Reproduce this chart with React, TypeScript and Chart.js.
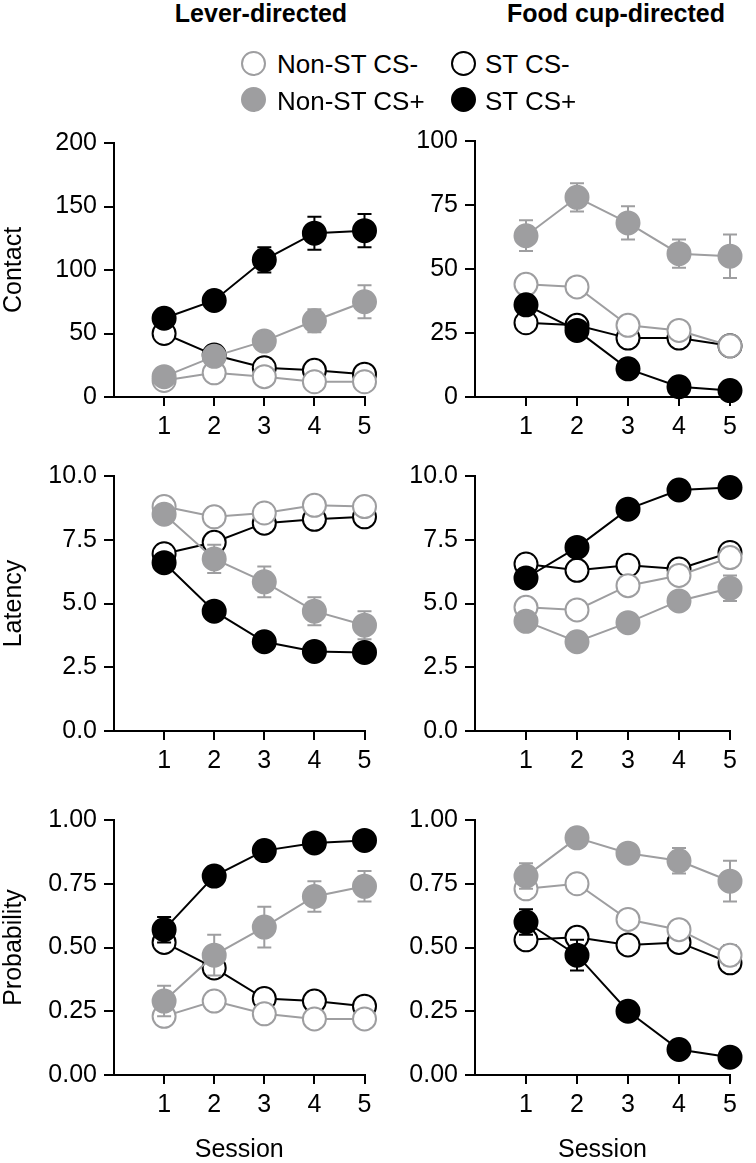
import React, { useEffect, useRef } from 'react';
import { Chart, registerables } from 'chart.js';

Chart.register(...registerables);

const FONT = "'Liberation Sans', Arial, Helvetica, sans-serif";
const GRAY = '#9e9ea0';
const BLACK = '#000000';
const WHITE = '#ffffff';

// ---------- data ----------
const sessions = [1, 2, 3, 4, 5];
const seriesNames = ['Non-ST CS-', 'ST CS-', 'Non-ST CS+', 'ST CS+'];
const columnTitles = ['Lever-directed', 'Food cup-directed'];
const rowTitles = ['Contact', 'Latency', 'Probability'];
const xTitle = 'Session';

// Lever-directed contact
const leverContactNonStMinus = [13, 19, 16, 12, 12];
const leverContactNonStMinusErr = [2, 2, 2, 2, 2];
const leverContactStMinus = [50, 33, 23, 21, 18];
const leverContactStMinusErr = [3, 3, 3, 2, 2];
const leverContactNonStPlus = [16, 32, 44, 60, 75];
const leverContactNonStPlusErr = [4, 4, 4, 9, 13];
const leverContactStPlus = [62, 76, 108, 129, 131];
const leverContactStPlusErr = [4, 4, 10, 13, 13];

// Food cup-directed contact
const foodContactNonStMinus = [44, 43, 28, 26, 20];
const foodContactNonStMinusErr = [2, 2, 2, 2, 2];
const foodContactStMinus = [29, 28, 23, 23, 20];
const foodContactStMinusErr = [2, 2, 2, 2, 2];
const foodContactNonStPlus = [63, 78, 68, 56, 55];
const foodContactNonStPlusErr = [6, 5.5, 6.5, 5.5, 8.5];
const foodContactStPlus = [36, 26, 11, 4, 2.5];
const foodContactStPlusErr = [3, 2, 2, 1, 1];

// Lever-directed latency
const leverLatencyNonStMinus = [8.8, 8.4, 8.55, 8.85, 8.8];
const leverLatencyNonStMinusErr = [0.15, 0.15, 0.15, 0.15, 0.15];
const leverLatencyStMinus = [6.95, 7.4, 8.15, 8.3, 8.4];
const leverLatencyStMinusErr = [0.2, 0.2, 0.2, 0.2, 0.2];
const leverLatencyNonStPlus = [8.5, 6.75, 5.85, 4.7, 4.15];
const leverLatencyNonStPlusErr = [0.25, 0.55, 0.6, 0.55, 0.55];
const leverLatencyStPlus = [6.6, 4.7, 3.5, 3.12, 3.08];
const leverLatencyStPlusErr = [0.2, 0.2, 0.2, 0.2, 0.2];

// Food cup-directed latency
const foodLatencyNonStMinus = [4.85, 4.75, 5.7, 6.1, 6.8];
const foodLatencyNonStMinusErr = [0.2, 0.2, 0.2, 0.2, 0.2];
const foodLatencyStMinus = [6.55, 6.3, 6.5, 6.35, 7.0];
const foodLatencyStMinusErr = [0.2, 0.2, 0.2, 0.2, 0.2];
const foodLatencyNonStPlus = [4.3, 3.5, 4.25, 5.1, 5.6];
const foodLatencyNonStPlusErr = [0.2, 0.2, 0.2, 0.2, 0.5];
const foodLatencyStPlus = [6.0, 7.2, 8.7, 9.45, 9.55];
const foodLatencyStPlusErr = [0.2, 0.2, 0.2, 0.2, 0.2];

// Lever-directed probability
const leverProbNonStMinus = [0.23, 0.29, 0.24, 0.22, 0.22];
const leverProbNonStMinusErr = [0.02, 0.02, 0.02, 0.02, 0.02];
const leverProbStMinus = [0.52, 0.42, 0.3, 0.29, 0.27];
const leverProbStMinusErr = [0.03, 0.03, 0.02, 0.02, 0.02];
const leverProbNonStPlus = [0.29, 0.47, 0.58, 0.7, 0.74];
const leverProbNonStPlusErr = [0.06, 0.08, 0.08, 0.06, 0.06];
const leverProbStPlus = [0.57, 0.78, 0.88, 0.91, 0.92];
const leverProbStPlusErr = [0.05, 0.02, 0.02, 0.02, 0.02];

// Food cup-directed probability
const foodProbNonStMinus = [0.73, 0.75, 0.61, 0.57, 0.47];
const foodProbNonStMinusErr = [0.02, 0.02, 0.02, 0.02, 0.04];
const foodProbStMinus = [0.53, 0.54, 0.51, 0.52, 0.44];
const foodProbStMinusErr = [0.02, 0.02, 0.02, 0.02, 0.02];
const foodProbNonStPlus = [0.78, 0.93, 0.87, 0.84, 0.76];
const foodProbNonStPlusErr = [0.05, 0.03, 0.03, 0.05, 0.08];
const foodProbStPlus = [0.6, 0.47, 0.25, 0.1, 0.07];
const foodProbStPlusErr = [0.05, 0.06, 0.02, 0.02, 0.02];

// tick labels
const sessionTicks = [1, 2, 3, 4, 5];
const leverContactTicks = [0, 50, 100, 150, 200];
const foodContactTicks = [0, 25, 50, 75, 100];
const latencyTicks = [0, 2.5, 5, 7.5, 10];
const probabilityTicks = [0, 0.25, 0.5, 0.75, 1];

// ---------- styles ----------
const seriesStyles = [
  { color: GRAY, fill: WHITE, order: 3 }, // Non-ST CS-
  { color: BLACK, fill: WHITE, order: 4 }, // ST CS-
  { color: GRAY, fill: GRAY, order: 2 }, // Non-ST CS+
  { color: BLACK, fill: BLACK, order: 1 }, // ST CS+
];

type Series = { mean: number[]; err: number[] };
type PanelCfg = {
  canvas: { x: number; y: number; w: number; h: number };
  area: { l: number; r: number; t: number; b: number };
  yTicks: number[];
  decimals: number;
  yTitle?: string;
  xTitle?: string;
  series: Series[];
};

const errorBarPlugin = {
  id: 'errorBars',
  beforeDatasetDraw(chart: any, args: any) {
    const ds = chart.data.datasets[args.index];
    const errs: number[] = ds.errors || [];
    const yScale = chart.scales.y;
    const ctx = chart.ctx;
    ctx.save();
    ctx.strokeStyle = ds.borderColor;
    ctx.lineWidth = 2;
    args.meta.data.forEach((pt: any, i: number) => {
      const v = ds.data[i].y;
      const e = errs[i] || 0;
      const yt = yScale.getPixelForValue(v + e);
      const yb = yScale.getPixelForValue(v - e);
      const x = pt.x;
      ctx.beginPath();
      ctx.moveTo(x, yt);
      ctx.lineTo(x, yb);
      ctx.moveTo(x - 7, yt);
      ctx.lineTo(x + 7, yt);
      ctx.moveTo(x - 7, yb);
      ctx.lineTo(x + 7, yb);
      ctx.stroke();
    });
    ctx.restore();
  },
};

function Panel({ cfg }: { cfg: PanelCfg }) {
  const ref = useRef<HTMLCanvasElement | null>(null);
  useEffect(() => {
    if (!ref.current) return;
    const { canvas, area } = cfg;
    const yAxisW = area.l - canvas.x;
    const xAxisH = canvas.y + canvas.h - area.b;
    const padRight = canvas.x + canvas.w - area.r;
    const padTop = area.t - canvas.y;
    const yMax = cfg.yTicks[cfg.yTicks.length - 1];
    const datasets = cfg.series.map((s, i) => {
      const st = seriesStyles[i];
      return {
        label: seriesNames[i],
        data: sessions.map((x, j) => ({ x, y: s.mean[j] })),
        errors: s.err,
        borderColor: st.color,
        backgroundColor: st.fill,
        pointBackgroundColor: st.fill,
        pointBorderColor: st.color,
        pointRadius: 11.5,
        pointHoverRadius: 11.5,
        pointBorderWidth: 2,
        borderWidth: 2,
        tension: 0,
        order: st.order,
        clip: false,
        fill: false,
      };
    });
    const tickFont = { family: FONT, size: 25 };
    const chart = new Chart(ref.current, {
      type: 'line',
      data: { datasets: datasets as any },
      options: {
        animation: false,
        responsive: false,
        events: [],
        layout: { padding: { left: 0, right: padRight, top: padTop, bottom: 0 } },
        plugins: { legend: { display: false }, tooltip: { enabled: false } },
        scales: {
          x: {
            type: 'linear',
            min: 0,
            max: 5,
            afterBuildTicks: (sc: any) => {
              sc.ticks = sessionTicks.map((v) => ({ value: v }));
            },
            afterFit: (sc: any) => {
              sc.height = xAxisH;
            },
            grid: { display: true, drawOnChartArea: false, drawTicks: true, tickLength: 9, color: BLACK, lineWidth: 2 },
            border: { display: true, color: BLACK, width: 2 },
            ticks: {
              color: BLACK,
              font: tickFont,
              padding: 6,
              maxRotation: 0,
              autoSkip: false,
              callback: (v: any) => String(v),
            },
            title: {
              display: !!cfg.xTitle,
              text: cfg.xTitle || '',
              color: BLACK,
              font: { family: FONT, size: 25, lineHeight: 1 },
              padding: { top: 0, bottom: 0 },
            },
          },
          y: {
            type: 'linear',
            min: 0,
            max: yMax,
            afterBuildTicks: (sc: any) => {
              sc.ticks = cfg.yTicks.map((v) => ({ value: v }));
            },
            afterFit: (sc: any) => {
              sc.width = yAxisW;
            },
            grid: { display: true, drawOnChartArea: false, drawTicks: true, tickLength: 10, color: BLACK, lineWidth: 2 },
            border: { display: true, color: BLACK, width: 2 },
            ticks: {
              color: BLACK,
              font: tickFont,
              padding: 7,
              autoSkip: false,
              callback: (v: any) => Number(v).toFixed(cfg.decimals),
            },
            title: {
              display: !!cfg.yTitle,
              text: cfg.yTitle || '',
              color: BLACK,
              font: { family: FONT, size: 25, lineHeight: 1 },
              padding: { top: 2, bottom: 0 },
            },
          },
        },
      } as any,
      plugins: [errorBarPlugin],
    });
    return () => chart.destroy();
  }, [cfg]);
  return (
    <canvas
      ref={ref}
      width={cfg.canvas.w}
      height={cfg.canvas.h}
      style={{ position: 'absolute', left: cfg.canvas.x, top: cfg.canvas.y, width: cfg.canvas.w, height: cfg.canvas.h }}
    />
  );
}

const LEFT = { x: 0, w: 378, l: 114, r: 370 };
const RIGHT = { x: 378, w: 378, l: 475, r: 730 };

const panels: PanelCfg[] = [
  {
    canvas: { x: LEFT.x, y: 115, w: LEFT.w, h: 330 },
    area: { l: LEFT.l, r: LEFT.r, t: 143, b: 397 },
    yTicks: leverContactTicks,
    decimals: 0,
    yTitle: rowTitles[0],
    series: [
      { mean: leverContactNonStMinus, err: leverContactNonStMinusErr },
      { mean: leverContactStMinus, err: leverContactStMinusErr },
      { mean: leverContactNonStPlus, err: leverContactNonStPlusErr },
      { mean: leverContactStPlus, err: leverContactStPlusErr },
    ],
  },
  {
    canvas: { x: RIGHT.x, y: 115, w: RIGHT.w, h: 330 },
    area: { l: RIGHT.l, r: RIGHT.r, t: 141, b: 397 },
    yTicks: foodContactTicks,
    decimals: 0,
    series: [
      { mean: foodContactNonStMinus, err: foodContactNonStMinusErr },
      { mean: foodContactStMinus, err: foodContactStMinusErr },
      { mean: foodContactNonStPlus, err: foodContactNonStPlusErr },
      { mean: foodContactStPlus, err: foodContactStPlusErr },
    ],
  },
  {
    canvas: { x: LEFT.x, y: 446, w: LEFT.w, h: 340 },
    area: { l: LEFT.l, r: LEFT.r, t: 476, b: 731 },
    yTicks: latencyTicks,
    decimals: 1,
    yTitle: rowTitles[1],
    series: [
      { mean: leverLatencyNonStMinus, err: leverLatencyNonStMinusErr },
      { mean: leverLatencyStMinus, err: leverLatencyStMinusErr },
      { mean: leverLatencyNonStPlus, err: leverLatencyNonStPlusErr },
      { mean: leverLatencyStPlus, err: leverLatencyStPlusErr },
    ],
  },
  {
    canvas: { x: RIGHT.x, y: 446, w: RIGHT.w, h: 340 },
    area: { l: RIGHT.l, r: RIGHT.r, t: 476, b: 731 },
    yTicks: latencyTicks,
    decimals: 1,
    series: [
      { mean: foodLatencyNonStMinus, err: foodLatencyNonStMinusErr },
      { mean: foodLatencyStMinus, err: foodLatencyStMinusErr },
      { mean: foodLatencyNonStPlus, err: foodLatencyNonStPlusErr },
      { mean: foodLatencyStPlus, err: foodLatencyStPlusErr },
    ],
  },
  {
    canvas: { x: LEFT.x, y: 790, w: LEFT.w, h: 373 },
    area: { l: LEFT.l, r: LEFT.r, t: 820, b: 1075 },
    yTicks: probabilityTicks,
    decimals: 2,
    yTitle: rowTitles[2],
    xTitle: xTitle,
    series: [
      { mean: leverProbNonStMinus, err: leverProbNonStMinusErr },
      { mean: leverProbStMinus, err: leverProbStMinusErr },
      { mean: leverProbNonStPlus, err: leverProbNonStPlusErr },
      { mean: leverProbStPlus, err: leverProbStPlusErr },
    ],
  },
  {
    canvas: { x: RIGHT.x, y: 790, w: RIGHT.w, h: 373 },
    area: { l: RIGHT.l, r: RIGHT.r, t: 820, b: 1075 },
    yTicks: probabilityTicks,
    decimals: 2,
    xTitle: xTitle,
    series: [
      { mean: foodProbNonStMinus, err: foodProbNonStMinusErr },
      { mean: foodProbStMinus, err: foodProbStMinusErr },
      { mean: foodProbNonStPlus, err: foodProbNonStPlusErr },
      { mean: foodProbStPlus, err: foodProbStPlusErr },
    ],
  },
];

const legendItems = [
  { idx: 0, cx: 253, cy: 63, tx: 277, ty: 51 },
  { idx: 1, cx: 463, cy: 63, tx: 485, ty: 51 },
  { idx: 2, cx: 253, cy: 99, tx: 277, ty: 88 },
  { idx: 3, cx: 463, cy: 99, tx: 485, ty: 88 },
];

export default function App() {
  return (
    <div style={{ position: 'absolute', left: 0, top: 0, width: 756, height: 1163, background: '#fff', overflow: 'hidden', fontFamily: FONT }}>
      {panels.map((p, i) => (
        <Panel key={i} cfg={p} />
      ))}
      <div style={{ position: 'absolute', left: 261 - 150, top: 1, width: 300, textAlign: 'center', fontWeight: 'bold', fontSize: 25, lineHeight: '25px', color: '#000' }}>
        {columnTitles[0]}
      </div>
      <div style={{ position: 'absolute', left: 616 - 150, top: 1, width: 300, textAlign: 'center', fontWeight: 'bold', fontSize: 25, lineHeight: '25px', color: '#000' }}>
        {columnTitles[1]}
      </div>
      {legendItems.map((it) => {
        const st = seriesStyles[it.idx];
        return (
          <React.Fragment key={it.idx}>
            <div
              style={{
                position: 'absolute',
                left: it.cx - 12.5,
                top: it.cy - 12.5,
                width: 25,
                height: 25,
                boxSizing: 'border-box',
                borderRadius: '50%',
                border: `2px solid ${st.color}`,
                background: st.fill,
              }}
            />
            <div style={{ position: 'absolute', left: it.tx, top: it.ty, fontSize: 26, lineHeight: '26px', color: '#000', whiteSpace: 'nowrap' }}>
              {seriesNames[it.idx]}
            </div>
          </React.Fragment>
        );
      })}
    </div>
  );
}
